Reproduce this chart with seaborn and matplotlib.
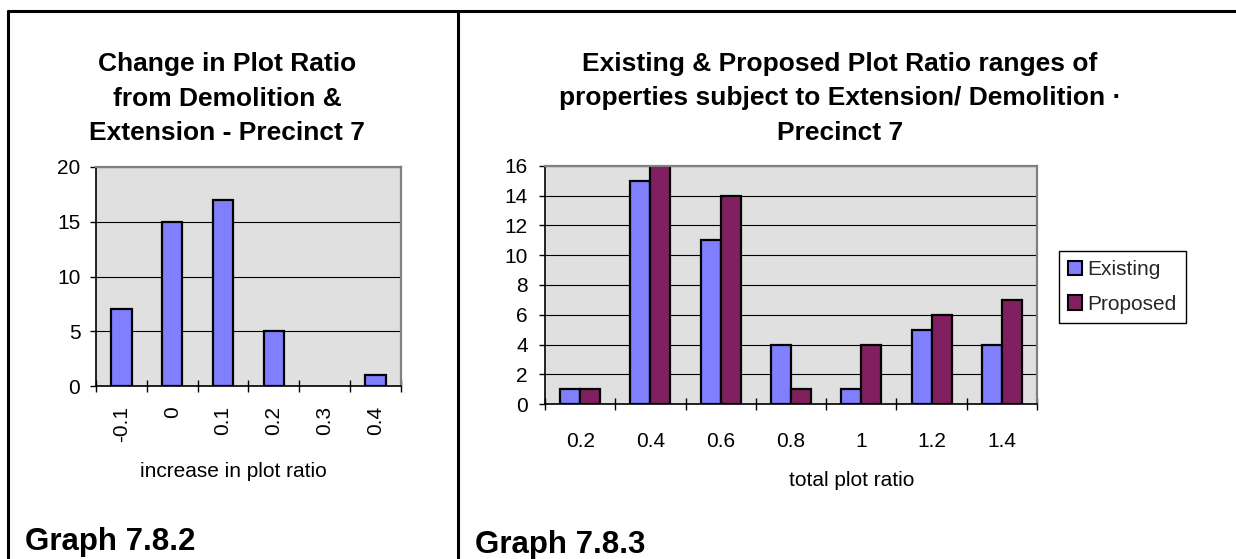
import matplotlib
matplotlib.use('Agg')
import matplotlib.pyplot as plt
import seaborn as sns
import pandas as pd
from matplotlib.lines import Line2D
from matplotlib.ticker import FixedLocator, MultipleLocator

sns.set_theme(style='ticks')
plt.rcParams['font.family'] = ['Liberation Sans', 'DejaVu Sans']

# ---------------- data ----------------
change_categories = ['-0.1', '0', '0.1', '0.2', '0.3', '0.4']
change_counts = [7, 15, 17, 5, 0, 1]

ratio_categories = ['0.2', '0.4', '0.6', '0.8', '1', '1.2', '1.4']
existing_counts = [1, 15, 11, 4, 1, 5, 4]
proposed_counts = [1, 16, 14, 1, 4, 6, 7]
series_names = ['Existing', 'Proposed']

left_title = ['Change in Plot Ratio', 'from Demolition &', 'Extension - Precinct 7']
right_title = ['Existing & Proposed Plot Ratio ranges of',
               'properties subject to Extension/ Demolition \u00b7',
               'Precinct 7']

W, H = 1236, 559
fig = plt.figure(figsize=(W / 100, H / 100), dpi=100)


def fx(px):
    return px / W


def fy(py):
    return 1 - py / H


ax1 = fig.add_axes([fx(96), fy(386), (401 - 96) / W, (386 - 167) / H])
ax2 = fig.add_axes([fx(545), fy(404), (1037 - 545) / W, (404 - 166) / H])

BLUE = '#8080FF'
PLUM = '#802060'

sns.barplot(x=change_categories, y=change_counts, order=change_categories,
            color=BLUE, saturation=1, width=0.4, edgecolor='black',
            linewidth=1.6, ax=ax1)
# a zero-height bar is not drawn in the reference
for p in ax1.patches:
    if p.get_height() == 0:
        p.set_visible(False)

df = pd.DataFrame({
    'ratio': ratio_categories * 2,
    'count': existing_counts + proposed_counts,
    'series': [series_names[0]] * len(ratio_categories) + [series_names[1]] * len(ratio_categories),
})
sns.barplot(data=df, x='ratio', y='count', hue='series', order=ratio_categories,
            hue_order=series_names, palette=[BLUE, PLUM], saturation=1,
            width=0.571, edgecolor='black', linewidth=1.6, ax=ax2)


def style(ax, ymax, ystep, n, xpad, ypad):
    ax.set_facecolor('#E0E0E0')
    ax.set_ylim(0, ymax)
    ax.set_xlim(-0.5, n - 0.5)
    ax.yaxis.set_major_locator(MultipleLocator(ystep))
    ax.grid(axis='y', color='black', linewidth=0.8)
    ax.grid(axis='x', visible=False)
    ax.set_axisbelow(True)
    for s in ['top', 'right']:
        ax.spines[s].set_color('#808080')
        ax.spines[s].set_linewidth(1.6)
    for s in ['left', 'bottom']:
        ax.spines[s].set_color('black')
        ax.spines[s].set_linewidth(1.2)
    ax.xaxis.set_minor_locator(FixedLocator([i - 0.5 for i in range(n + 1)]))
    ax.tick_params(axis='x', which='major', length=0, labelsize=15, pad=xpad,
                   labelcolor='black', bottom=True)
    ax.tick_params(axis='x', which='minor', length=8.6, direction='inout',
                   width=1, color='black', bottom=True)
    ax.tick_params(axis='y', which='major', length=4.3, direction='out',
                   width=1, color='black', labelsize=15, pad=ypad,
                   labelcolor='black', left=True)
    ax.set_ylabel('')


style(ax1, 20, 5, len(change_categories), 14.5, 7)
style(ax2, 16, 2, len(ratio_categories), 20, 8)
ax1.tick_params(axis='x', which='major', labelrotation=90)

ax1.set_xlabel('increase in plot ratio', fontsize=15, color='black')
ax1.xaxis.label.set_va('center')
ax1.xaxis.set_label_coords((233 - 96) / 305, -(472 - 386) / 219)

ax2.set_xlabel('total plot ratio', fontsize=15, color='black')
ax2.xaxis.label.set_va('center')
ax2.xaxis.set_label_coords((852 - 545) / 492, -(480 - 404) / 238)

# legend
handles, labels = ax2.get_legend_handles_labels()
if ax2.get_legend() is not None:
    ax2.get_legend().remove()
leg = fig.legend(handles, labels, loc='upper left',
                 bbox_to_anchor=(fx(1059), fy(251)), bbox_transform=fig.transFigure,
                 borderaxespad=0, frameon=True, fancybox=False, edgecolor='black',
                 framealpha=1, fontsize=15, handlelength=0.67, handleheight=0.67,
                 handletextpad=0.25, labelspacing=0.74, borderpad=0.45)
leg.get_frame().set_linewidth(1)
for p in leg.get_patches():
    p.set_edgecolor('black')
    p.set_linewidth(1.5)

# titles
for i, line in enumerate(left_title):
    fig.text(fx(227), fy(71 + 34.5 * i), line, ha='center', va='baseline',
             fontsize=19, fontweight='bold', color='black')
for i, line in enumerate(right_title):
    fig.text(fx(840), fy(71 + 34.5 * i), line, ha='center', va='baseline',
             fontsize=19, fontweight='bold', color='black')

fig.text(fx(25), fy(550), 'Graph 7.8.2', ha='left', va='baseline',
         fontsize=22.5, fontweight='bold', color='black')
fig.text(fx(475), fy(553), 'Graph 7.8.3', ha='left', va='baseline',
         fontsize=22.5, fontweight='bold', color='black')

# panel borders
for xs, ys in [([fx(8), 1.0], [fy(11), fy(11)]),
               ([fx(8), fx(8)], [fy(11), 0.0]),
               ([fx(458), fx(458)], [fy(11), 0.0])]:
    fig.add_artist(Line2D(xs, ys, transform=fig.transFigure, color='black', lw=2.2))

fig.savefig('out.png', dpi=100)
